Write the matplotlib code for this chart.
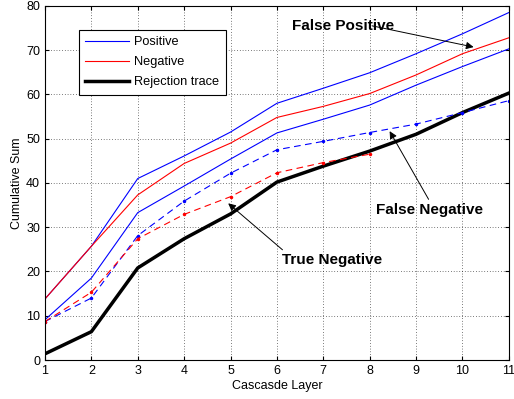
import numpy as np
import matplotlib
matplotlib.use("Agg")
import matplotlib.pyplot as plt

plt.rcParams["font.family"] = ["Liberation Sans", "DejaVu Sans"]

###################
# Data (read off) #
###################
layers = [1, 2, 3, 4, 5, 6, 7, 8, 9, 10, 11]
pos_upper = [13.8, 25.7, 41.0, 46.1, 51.5, 58.0, 61.4, 64.9, 69.2, 73.7, 78.5]
pos_lower = [9.1, 18.5, 33.3, 39.3, 45.4, 51.3, 54.4, 57.6, 62.1, 66.3, 70.3]
neg_solid = [13.8, 25.7, 37.3, 44.4, 49.0, 54.8, 57.3, 60.2, 64.4, 69.2, 72.8]
pos_dashed = [8.7, 14.0, 28.1, 35.9, 42.2, 47.5, 49.4, 51.4, 53.3, 55.9, 58.6]
neg_dashed_layers = [1, 2, 3, 4, 5, 6, 7, 8]
neg_dashed = [8.7, 15.3, 27.4, 32.9, 36.9, 42.3, 44.6, 46.5]
rejection = [1.4, 6.4, 20.8, 27.4, 33.0, 40.2, 43.8, 47.2, 51.0, 55.9, 60.3]

x_ticks = list(range(1, 12))
y_ticks = list(range(0, 90, 10))

############
# Plotting #
############
fig = plt.figure(figsize=(5.14, 3.99), dpi=100)
ax = fig.add_axes([0.0875, 0.0977, 0.9025, 0.8875])

ax.plot(layers, pos_upper, color="b", linewidth=0.8, label="Positive")
ax.plot(layers, neg_solid, color="r", linewidth=0.8, label="Negative")
ax.plot(layers, rejection, color="k", linewidth=2.5, label="Rejection trace")
ax.plot(layers, pos_lower, color="b", linewidth=0.8)
ax.plot(layers, pos_dashed, color="b", linewidth=0.8, linestyle=(0, (6, 4)),
        marker=".", markersize=3)
ax.plot(neg_dashed_layers, neg_dashed, color="r", linewidth=0.8, linestyle=(0, (6, 4)),
        marker=".", markersize=3)

ax.set_xlim(1, 11)
ax.set_ylim(0, 80)
ax.set_xticks(x_ticks)
ax.set_yticks(y_ticks)
ax.tick_params(direction="in", labelsize=9, length=3, top=True, right=True)
ax.grid(True, color="k", linestyle=(0, (1, 3)), linewidth=0.5)
for s in ax.spines.values():
    s.set_linewidth(0.8)
ax.set_xlabel("Cascasde Layer", fontsize=9, labelpad=2)
ax.set_ylabel("Cumulative Sum", fontsize=9, labelpad=2)

leg = ax.legend(loc="upper left", bbox_to_anchor=(0.073, 0.932), borderaxespad=0,
                fontsize=9.2, fancybox=False, framealpha=1, edgecolor="k",
                handlelength=3.4, handletextpad=0.45, borderpad=0.5,
                labelspacing=0.62)
leg.get_frame().set_linewidth(0.8)

# annotations: text and arrow drawn separately (arrow tail, arrow tip)
arrow = dict(arrowstyle="-|>", color="k", linewidth=0.7, mutation_scale=11,
             shrinkA=0, shrinkB=0)
ax.text(6.33, 75.5, "False Positive", fontsize=11, fontweight="bold", va="center")
ax.annotate("", xy=(10.24, 70.7), xytext=(8.05, 75.5), arrowprops=arrow)
ax.text(8.13, 33.8, "False Negative", fontsize=11, fontweight="bold", va="center")
ax.annotate("", xy=(8.43, 51.7), xytext=(9.27, 36.3), arrowprops=arrow)
ax.text(6.12, 22.7, "True Negative", fontsize=11, fontweight="bold", va="center")
ax.annotate("", xy=(4.95, 35.4), xytext=(6.12, 24.9), arrowprops=arrow)

fig.savefig("out.png", dpi=100)
